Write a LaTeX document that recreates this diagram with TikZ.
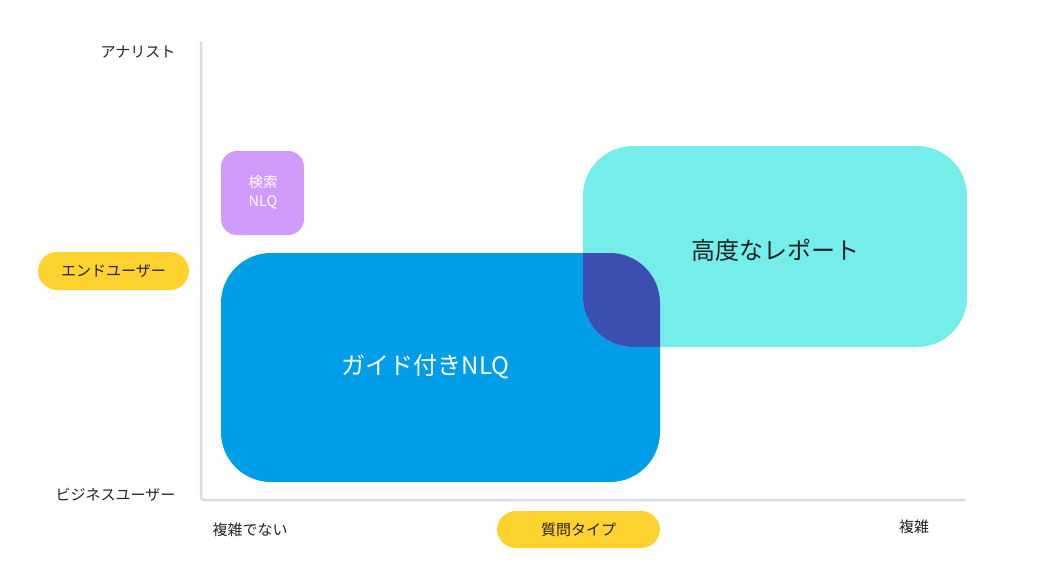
\documentclass[tikz,border=0pt]{standalone}
\usepackage{fontspec}
\setmainfont{Noto Sans CJK JP}
\definecolor{axisc}{HTML}{D8DCE6}
\definecolor{cyanc}{HTML}{74EDEB}
\definecolor{bluec}{HTML}{009EE8}
\definecolor{overc}{HTML}{3B4FB0}
\definecolor{purpc}{HTML}{D19BFB}
\definecolor{yelc}{HTML}{FED330}
\definecolor{txtc}{HTML}{222222}
\tikzset{
  lbl/.style={text=txtc, font=\fontsize{15}{17}\selectfont, inner sep=0pt},
  pill/.style={fill=yelc, rounded corners=19pt, minimum height=38pt, text=txtc, font=\fontsize{15}{17}\selectfont},
  big/.style={font=\fontsize{24}{27}\selectfont, inner sep=0pt}
}
\begin{document}
\begin{tikzpicture}[x=1pt,y=-1pt]
\useasboundingbox (0,0) rectangle (1039,582);
% axes
\draw[axisc, line width=2.5pt, rounded corners=3pt] (201,42) -- (201,500) -- (965,500);
% boxes
\fill[bluec, rounded corners=50pt] (221,253) rectangle (660,482);
\fill[cyanc, rounded corners=50pt] (583,146) rectangle (967,347);
\begin{scope}
\clip[rounded corners=50pt] (221,253) rectangle (660,482);
\fill[overc, rounded corners=50pt] (583,146) rectangle (967,347);
\end{scope}
\fill[purpc, rounded corners=16pt] (221,151) rectangle (304,235);
% texts
\node[big, text=txtc] (adv) at (775,250) {高度なレポート};
\node[big, text=white] (guide) at (425.5,367) {ガイド付きNLQ};
\node[text=white, font=\fontsize{14.5}{19}\selectfont, align=center, inner sep=0pt] (search) at (263,192) {検索\\NLQ};
\node[lbl, anchor=east] (analyst) at (175.5,52) {アナリスト};
\node[lbl, anchor=east] (biz) at (175.5,495) {ビジネスユーザー};
\node[lbl] (simple) at (250,530) {複雑でない};
\node[lbl] (complex) at (914,527) {複雑};
\node[pill, minimum width=151pt] (enduser) at (113.5,271) {エンドユーザー};
\node[pill, minimum width=163pt, minimum height=37pt] (qtype) at (578.5,529.5) {質問タイプ};
\end{tikzpicture}
\end{document}
